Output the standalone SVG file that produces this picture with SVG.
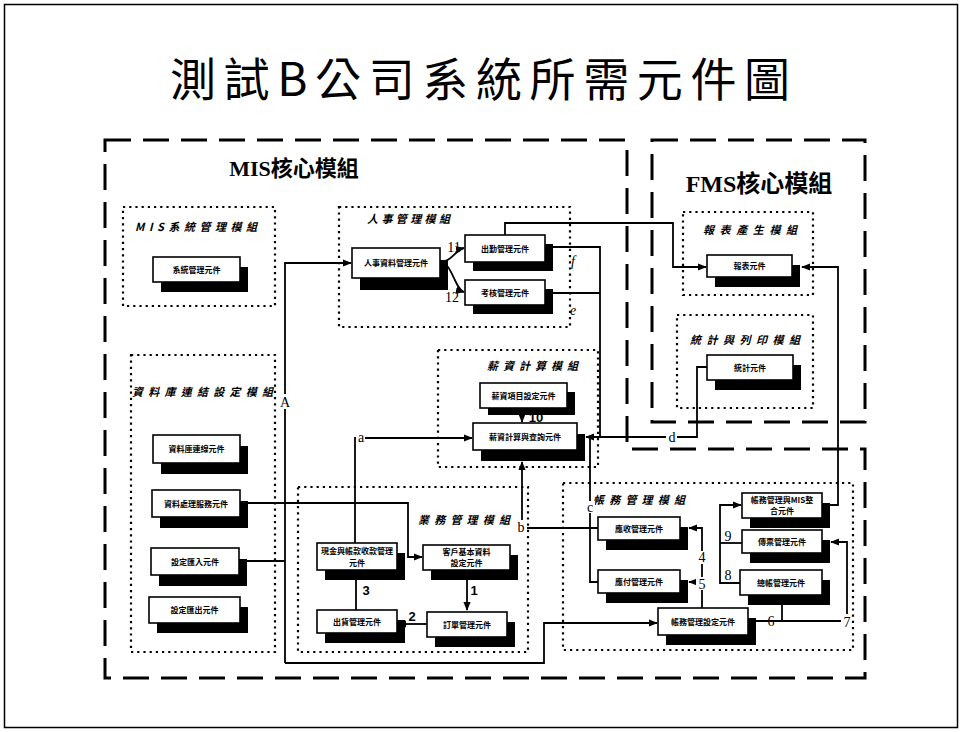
<svg xmlns="http://www.w3.org/2000/svg" width="962" height="732" viewBox="0 0 962 732">
<style>
.frame{fill:#fff;stroke:#000;stroke-width:1.5}
.core{fill:none;stroke:#000;stroke-width:3;stroke-dasharray:26 12}
.mod{fill:none;stroke:#000;stroke-width:2.2;stroke-dasharray:2.2 4}
.box{fill:#fff;stroke:#000;stroke-width:1.6}
.sh{fill:#000}
.ct{font-family:"Noto Sans CJK TC","Noto Sans CJK SC",sans-serif;font-size:8px;font-weight:bold;text-anchor:middle;fill:#000}
.mt{font-family:"Noto Sans CJK TC","Noto Sans CJK SC",sans-serif;font-size:11px;font-weight:bold;font-style:italic;fill:#000}
.core-t{font-family:"Liberation Serif","Noto Sans CJK TC",serif;font-weight:bold;fill:#000}
.ln{fill:none;stroke:#000;stroke-width:1.8}
.lbl{font-family:"Liberation Serif","DejaVu Serif",serif;font-size:14px;text-anchor:middle;fill:#000}
.num{font-family:"Liberation Sans",Arial,sans-serif;font-size:13px;font-weight:bold;text-anchor:middle;fill:#000}
.bg{fill:#fff}
</style>
<defs>
<marker id="ah" viewBox="0 0 10 10" refX="9" refY="5" markerWidth="9" markerHeight="9" orient="auto" markerUnits="userSpaceOnUse"><path d="M0,1 L10,5 L0,9 z" fill="#000"/></marker>
</defs>
<rect class="frame" x="4.5" y="4.5" width="953" height="723"/>
<text x="480" y="96" font-family="Noto Sans CJK TC, Noto Sans CJK SC, sans-serif" font-size="46" text-anchor="middle" textLength="620" lengthAdjust="spacing">測試B公司系統所需元件圖</text>

<g id="mis-core">
<path class="core" d="M105,140 H627 V449 H865 V678 H105 Z"/>
<text class="core-t" x="294" y="176" font-size="22" text-anchor="middle">MIS核心模組</text>
</g>
<g id="fms-core">
<rect class="core" x="652" y="140" width="213" height="282"/>
<text class="core-t" x="759" y="192" font-size="24" text-anchor="middle">FMS核心模組</text>
</g>

<g id="mod-sys"><rect class="mod" x="123" y="207" width="152" height="99"/><text class="mt" x="135" y="231" textLength="122" lengthAdjust="spacing">MIS系統管理模組</text></g>
<g id="mod-db"><rect class="mod" x="131" y="355" width="144" height="297"/><text class="mt" x="132" y="396" textLength="141" lengthAdjust="spacing">資料庫連結設定模組</text></g>
<g id="mod-hr"><rect class="mod" x="339" y="207" width="231" height="120"/><text class="mt" x="367" y="223" textLength="83" lengthAdjust="spacing">人事管理模組</text></g>
<g id="mod-pay"><rect class="mod" x="438" y="350" width="160" height="117"/><text class="mt" x="487" y="370" textLength="91" lengthAdjust="spacing">薪資計算模組</text></g>
<g id="mod-biz"><rect class="mod" x="298" y="487" width="230" height="165"/><text class="mt" x="418" y="524" textLength="92" lengthAdjust="spacing">業務管理模組</text></g>
<g id="mod-acc"><rect class="mod" x="563" y="483" width="290" height="167"/><text class="mt" x="593" y="504" textLength="92" lengthAdjust="spacing">帳務管理模組</text></g>
<g id="mod-rpt"><rect class="mod" x="683" y="212" width="130" height="83"/><text class="mt" x="703" y="234" textLength="94" lengthAdjust="spacing">報表產生模組</text></g>
<g id="mod-stat"><rect class="mod" x="677" y="315" width="136" height="93"/><text class="mt" x="690" y="344" textLength="110" lengthAdjust="spacing">統計與列印模組</text></g>

<g id="connectors">
<path class="ln" d="M239,561 H285"/>
<path class="ln" d="M285,663 V263 H351" marker-end="url(#ah)"/>
<path class="ln" d="M285,663 H544 V623 H657" marker-end="url(#ah)"/>
<path class="ln" d="M240,503 H408 V557 H422" marker-end="url(#ah)"/>
<path class="ln" d="M355,543 V438 H472" marker-end="url(#ah)"/>
<path class="ln" d="M467,570 V610" marker-end="url(#ah)"/>
<path class="ln" d="M427,624 H398" marker-end="url(#ah)"/>
<path class="ln" d="M356,610 V571" marker-end="url(#ah)"/>
<path class="ln" d="M522,528 V462" marker-end="url(#ah)"/>
<path class="ln" d="M522,528 H598"/>
<path class="ln" d="M590,437 V582 H598"/>
<path class="ln" d="M545,247 H600 V437 H586" marker-end="url(#ah)"/>
<path class="ln" d="M545,293 H600"/>
<path class="ln" d="M707,367 H697 V437 H600"/>
<path class="ln" d="M505,235 V223 H673 V267 H706" marker-end="url(#ah)"/>
<path class="ln" d="M822,505 H838 V267 H802" marker-end="url(#ah)"/>
<path class="ln" d="M522,408 V422" marker-end="url(#ah)"/>
<path class="ln" d="M440,262 C452,262 455,250 464,248" marker-end="url(#ah)"/>
<path class="ln" d="M440,262 C452,262 455,290 464,292" marker-end="url(#ah)"/>
<path class="ln" d="M702,608 V528 H689" marker-end="url(#ah)"/>
<path class="ln" d="M702,582 H689" marker-end="url(#ah)"/>
<path class="ln" d="M748,621 H841"/>
<path class="ln" d="M847,614 V542 H831" marker-end="url(#ah)"/>
<path class="ln" d="M782,621 V596" marker-end="url(#ah)"/>
<path class="ln" d="M740,583 H720 V505 H741" marker-end="url(#ah)"/>
<path class="ln" d="M720,543 H742"/>
<rect class="bg" x="279" y="394" width="12" height="15"/><text class="lbl" x="285" y="407">A</text>
<rect class="bg" x="356" y="431" width="9" height="13"/><text class="lbl" x="361" y="442">a</text>
<rect class="bg" x="516" y="520" width="11" height="14"/><text class="lbl" x="521" y="532">b</text>
<rect class="bg" x="585" y="501" width="10" height="12"/><text class="lbl" x="590" y="512">c</text>
<rect class="bg" x="666" y="430" width="11" height="14"/><text class="lbl" x="672" y="442">d</text>
<text class="lbl" x="573" y="266" font-style="italic">f</text>
<text class="lbl" x="573" y="315" font-style="italic">e</text>
<text class="lbl" x="454" y="252">11</text>
<text class="lbl" x="452" y="302">12</text>
<text class="num" x="474" y="595">1</text>
<text class="num" x="412" y="621">2</text>
<text class="num" x="366" y="595">3</text>
<rect class="bg" x="696" y="551" width="12" height="13"/><text class="lbl" x="702" y="562">4</text>
<rect class="bg" x="696" y="577" width="12" height="13"/><text class="lbl" x="702" y="589">5</text>
<text class="lbl" x="771" y="626">6</text>
<text class="lbl" x="847" y="627">7</text>
<text class="lbl" x="728" y="580">8</text>
<text class="lbl" x="728" y="541">9</text>
</g>

<g id="n-sys"><rect class="sh" x="161" y="267" width="87" height="25"/><rect class="box" x="153" y="257" width="87" height="25"/><text class="ct" x="196.5" y="272.5">系統管理元件</text></g>
<g id="n-hr-data"><rect class="sh" x="360" y="260" width="88" height="30"/><rect class="box" x="352" y="248" width="88" height="30"/><text class="ct" x="396" y="266">人事資料管理元件</text></g>
<g id="n-hr-att"><rect class="sh" x="473" y="244" width="80" height="27"/><rect class="box" x="465" y="235" width="80" height="27"/><text class="ct" x="505" y="251.5">出勤管理元件</text></g>
<g id="n-hr-eval"><rect class="sh" x="473" y="289" width="80" height="25"/><rect class="box" x="465" y="280" width="80" height="25"/><text class="ct" x="505" y="295.5">考核管理元件</text></g>
<g id="n-pay-item"><rect class="sh" x="488" y="392" width="87" height="23"/><rect class="box" x="480" y="383" width="87" height="25"/><text class="ct" x="523.5" y="398.5">薪資項目設定元件</text></g>
<g id="n-pay-calc"><rect class="sh" x="481" y="434" width="104" height="27"/><rect class="box" x="473" y="423" width="104" height="27"/><text class="ct" x="525" y="439.5">薪資計算與查詢元件</text></g>
<g id="n-db-link"><rect class="sh" x="161" y="446" width="87" height="28"/><rect class="box" x="153" y="435" width="87" height="28"/><text class="ct" x="196.5" y="452">資料庫連線元件</text></g>
<g id="n-db-proc"><rect class="sh" x="160" y="501" width="88" height="27"/><rect class="box" x="152" y="490" width="88" height="27"/><text class="ct" x="196" y="506.5">資料處理服務元件</text></g>
<g id="n-db-imp"><rect class="sh" x="159" y="559" width="88" height="27"/><rect class="box" x="151" y="548" width="88" height="27"/><text class="ct" x="195" y="564.5">設定匯入元件</text></g>
<g id="n-db-exp"><rect class="sh" x="157" y="607" width="91" height="26"/><rect class="box" x="149" y="597" width="91" height="26"/><text class="ct" x="194.5" y="613">設定匯出元件</text></g>
<g id="n-biz-cash"><rect class="sh" x="325" y="553" width="80" height="27"/><rect class="box" x="317" y="543" width="80" height="27"/><text class="ct" x="357" y="554" font-size="7.5">現金與帳款收款管理</text><text class="ct" x="357" y="566" font-size="7.5">元件</text></g>
<g id="n-biz-cust"><rect class="sh" x="431" y="555" width="87" height="25"/><rect class="box" x="423" y="545" width="87" height="25"/><text class="ct" x="466.5" y="555">客戶基本資料</text><text class="ct" x="466.5" y="566">設定元件</text></g>
<g id="n-biz-ship"><rect class="sh" x="325" y="620" width="80" height="23"/><rect class="box" x="317" y="610" width="80" height="23"/><text class="ct" x="357" y="624.5">出貨管理元件</text></g>
<g id="n-biz-order"><rect class="sh" x="435" y="622" width="80" height="25"/><rect class="box" x="427" y="612" width="80" height="25"/><text class="ct" x="467" y="627.5">訂單管理元件</text></g>
<g id="n-acc-ar"><rect class="sh" x="606" y="527" width="82" height="23"/><rect class="box" x="598" y="517" width="82" height="23"/><text class="ct" x="639" y="531.5">應收管理元件</text></g>
<g id="n-acc-ap"><rect class="sh" x="606" y="580" width="82" height="23"/><rect class="box" x="598" y="570" width="82" height="23"/><text class="ct" x="639" y="584.5">應付管理元件</text></g>
<g id="n-acc-set"><rect class="sh" x="666" y="618" width="90" height="27"/><rect class="box" x="658" y="608" width="90" height="27"/><text class="ct" x="703" y="624.5">帳務管理設定元件</text></g>
<g id="n-acc-mis"><rect class="sh" x="750" y="503" width="80" height="25"/><rect class="box" x="742" y="493" width="80" height="25"/><text class="ct" x="782" y="503" font-size="7.5">帳務管理與MIS整</text><text class="ct" x="782" y="514" font-size="7.5">合元件</text></g>
<g id="n-acc-vou"><rect class="sh" x="750" y="540" width="80" height="23"/><rect class="box" x="742" y="530" width="80" height="23"/><text class="ct" x="782" y="544.5">傳票管理元件</text></g>
<g id="n-acc-gl"><rect class="sh" x="748" y="580" width="82" height="25"/><rect class="box" x="740" y="570" width="82" height="25"/><text class="ct" x="781" y="585.5">總帳管理元件</text></g>
<g id="n-rpt"><rect class="sh" x="715" y="265" width="85" height="22"/><rect class="box" x="707" y="255" width="85" height="22"/><text class="ct" x="749.5" y="269">報表元件</text></g>
<g id="n-stat"><rect class="sh" x="715" y="365" width="86" height="25"/><rect class="box" x="707" y="355" width="86" height="25"/><text class="ct" x="750" y="370.5">統計元件</text></g>

<g id="label-10"><text class="num" x="536" y="422" font-size="9">10</text></g>
</svg>
